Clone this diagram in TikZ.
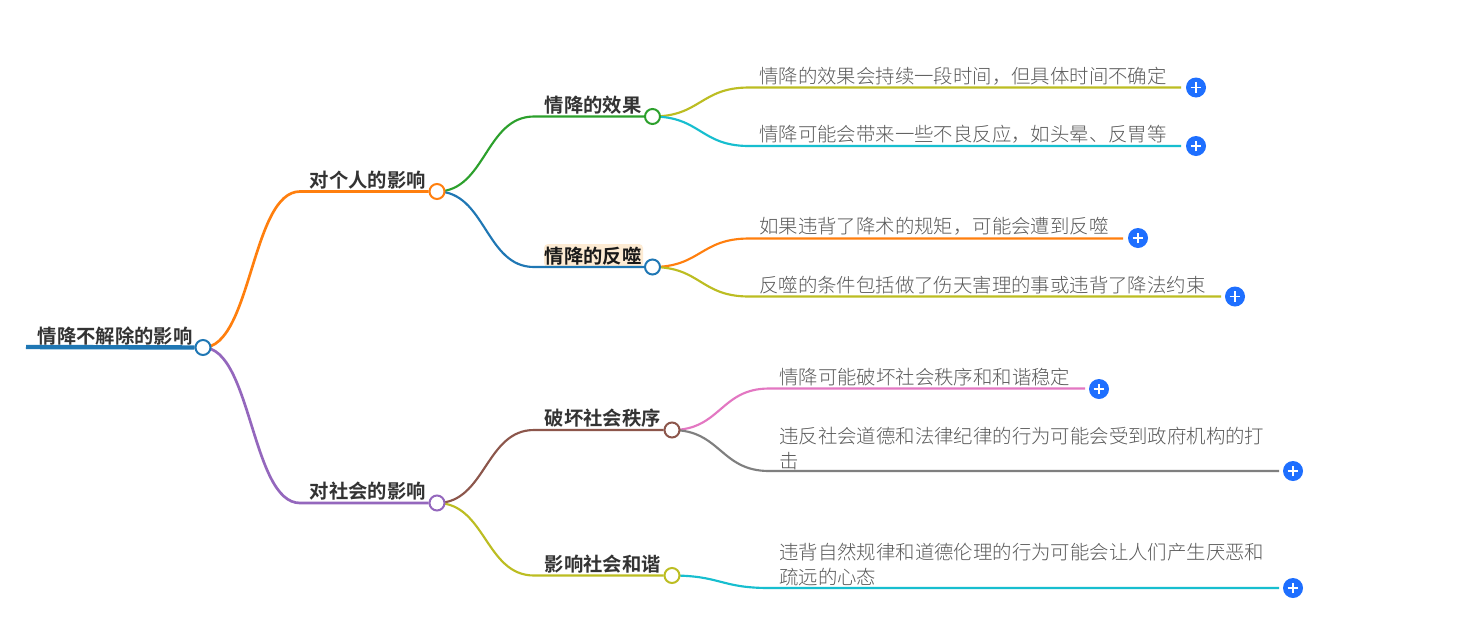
\documentclass[tikz,border=0pt]{standalone}
\usepackage{fontspec}
\setmainfont{Noto Sans CJK SC}[BoldFont={Noto Sans CJK SC Bold}]
\newfontfamily\leaffont{Noto Sans CJK SC Light}
\usetikzlibrary{backgrounds}
\definecolor{cBlue}{HTML}{1F77B4}
\definecolor{cOrange}{HTML}{FF7F0E}
\definecolor{cGreen}{HTML}{2CA02C}
\definecolor{cPurple}{HTML}{9467BD}
\definecolor{cBrown}{HTML}{8C564B}
\definecolor{cPink}{HTML}{E377C2}
\definecolor{cGray}{HTML}{7F7F7F}
\definecolor{cOlive}{HTML}{BCBD22}
\definecolor{cCyan}{HTML}{17BECF}
\definecolor{btnBlue}{HTML}{1E6FFF}
\definecolor{hiBg}{HTML}{FDEBD3}
\tikzset{
  x=0.75pt,y=-0.75pt,
  dot/.style={circle,draw=#1,fill=white,line width=1.5pt,minimum size=11.25pt,inner sep=0pt},
  link/.style={line width=1.6pt,#1},
  mainlink/.style={line width=2pt,#1},
  rootlabel/.style={anchor=base west,inner sep=0pt,font=\bfseries\fontsize{14.5pt}{16pt}\selectfont,text=black!80},
  branchlabel/.style={anchor=base west,inner sep=0pt,font=\bfseries\fontsize{14.5pt}{16pt}\selectfont,text=black!80},
  leaflabel/.style={anchor=base west,inner sep=0pt,font=\leaffont\fontsize{14.55pt}{18.75pt}\selectfont,text=black!65},
  plusbtn/.style={circle,fill=btnBlue,minimum size=15pt,inner sep=0pt,
    path picture={\draw[white,line width=1.1pt]
      ([xshift=-4pt]path picture bounding box.center)--([xshift=4pt]path picture bounding box.center)
      ([yshift=-4pt]path picture bounding box.center)--([yshift=4pt]path picture bounding box.center);}},
}
\begin{document}
\begin{tikzpicture}
\useasboundingbox (0,0) rectangle (1469,640);
% anchors
\coordinate (rootStart) at (26,347);
\coordinate (b1) at (300,191.5);
\coordinate (b2) at (300,503);
\coordinate (s1) at (534,116.5);
\coordinate (s2) at (534,267);
\coordinate (s3) at (534,430);
\coordinate (s4) at (534,575.5);
\coordinate (l1a) at (749,87.5);
\coordinate (l2a) at (749,146);
\coordinate (l3a) at (749,238.5);
\coordinate (l4a) at (749,296.5);
\coordinate (l5a) at (769,388.5);
\coordinate (l6a) at (769,471);
\coordinate (l7a) at (769,588);
\coordinate (l1b) at (1181,87.5);
\coordinate (l2b) at (1181,146);
\coordinate (l3b) at (1123,238.5);
\coordinate (l4b) at (1221,296.5);
\coordinate (l5b) at (1085,388.5);
\coordinate (l6b) at (1279,471);
\coordinate (l7b) at (1279,588);
% joints
\node[dot=cBlue] (n0) at (203,347.5) {};
\node[dot=cOrange] (n1) at (437,191.5) {};
\node[dot=cPurple] (n2) at (437,503) {};
\node[dot=cGreen] (n3) at (652.5,116.5) {};
\node[dot=cBlue] (n4) at (652.5,267) {};
\node[dot=cBrown] (n5) at (672,430) {};
\node[dot=cOlive] (n6) at (672,575.5) {};
% labels
\node[rootlabel] (t0) at (37.5,343) {情降不解除的影响};
\node[branchlabel] (t1) at (309.5,187) {对个人的影响};
\node[branchlabel] (t2) at (309.5,498) {对社会的影响};
\node[branchlabel] (t3) at (544.5,112) {情降的效果};
\node[branchlabel,text=black!90] (t4) at (544.5,263) {情降的反噬};
\node[branchlabel] (t5) at (544.5,425) {破坏社会秩序};
\node[branchlabel] (t6) at (544.5,571) {影响社会和谐};
\node[leaflabel] (x1) at (759,83.5) {情降的效果会持续一段时间，但具体时间不确定};
\node[leaflabel] (x2) at (759,141.5) {情降可能会带来一些不良反应，如头晕、反胃等};
\node[leaflabel] (x3) at (759,233.5) {如果违背了降术的规矩，可能会遭到反噬};
\node[leaflabel] (x4) at (759,292) {反噬的条件包括做了伤天害理的事或违背了降法约束};
\node[leaflabel] (x5) at (779,384) {情降可能破坏社会秩序和和谐稳定};
\node[leaflabel,align=left,text width=495*0.75pt] (x6) at (779,443) {违反社会道德和法律纪律的行为可能会受到政府机构的打\\击};
\node[leaflabel,align=left,text width=495*0.75pt] (x7) at (779,559.5) {违背自然规律和道德伦理的行为可能会让人们产生厌恶和\\疏远的心态};
% expand buttons
\node[plusbtn] (p1) at (1196,87.5) {};
\node[plusbtn] (p2) at (1196,146) {};
\node[plusbtn] (p3) at (1138,238) {};
\node[plusbtn] (p4) at (1235,296.5) {};
\node[plusbtn] (p5) at (1099,389) {};
\node[plusbtn] (p6) at (1293,471) {};
\node[plusbtn] (p7) at (1293,588) {};
% connectors
\begin{scope}[on background layer]
\fill[white] (0,0) rectangle (1469,640);
\fill[hiBg,rounded corners=3pt] (544,244) rectangle (643,267);
\draw[cBlue,line width=3.3pt] (rootStart) -- (n0);
\draw[mainlink=cOrange] (n0.center) .. controls (251.5,347.5) and (251.5,191.5) .. (b1) -- (n1);
\draw[mainlink=cPurple] (n0.center) .. controls (251.5,347.5) and (251.5,503) .. (b2) -- (n2);
\draw[link=cGreen] (n1.center) .. controls (485.5,191.5) and (485.5,116.5) .. (s1) -- (n3);
\draw[link=cBlue] (n1.center) .. controls (485.5,191.5) and (485.5,267) .. (s2) -- (n4);
\draw[link=cBrown] (n2.center) .. controls (485.5,503) and (485.5,430) .. (s3) -- (n5);
\draw[link=cOlive] (n2.center) .. controls (485.5,503) and (485.5,575.5) .. (s4) -- (n6);
\draw[link=cOlive] (n3.center) .. controls (700.5,116.5) and (700.5,87.5) .. (l1a) -- (l1b);
\draw[link=cCyan] (n3.center) .. controls (700.5,116.5) and (700.5,146) .. (l2a) -- (l2b);
\draw[link=cOrange] (n4.center) .. controls (700.5,267) and (700.5,238.5) .. (l3a) -- (l3b);
\draw[link=cOlive] (n4.center) .. controls (700.5,267) and (700.5,296.5) .. (l4a) -- (l4b);
\draw[link=cPink] (n5.center) .. controls (720.5,430) and (720.5,388.5) .. (l5a) -- (l5b);
\draw[link=cGray] (n5.center) .. controls (720.5,430) and (720.5,471) .. (l6a) -- (l6b);
\draw[link=cCyan] (n6.center) .. controls (720.5,575.5) and (720.5,588) .. (l7a) -- (l7b);
\end{scope}
\end{tikzpicture}
\end{document}
